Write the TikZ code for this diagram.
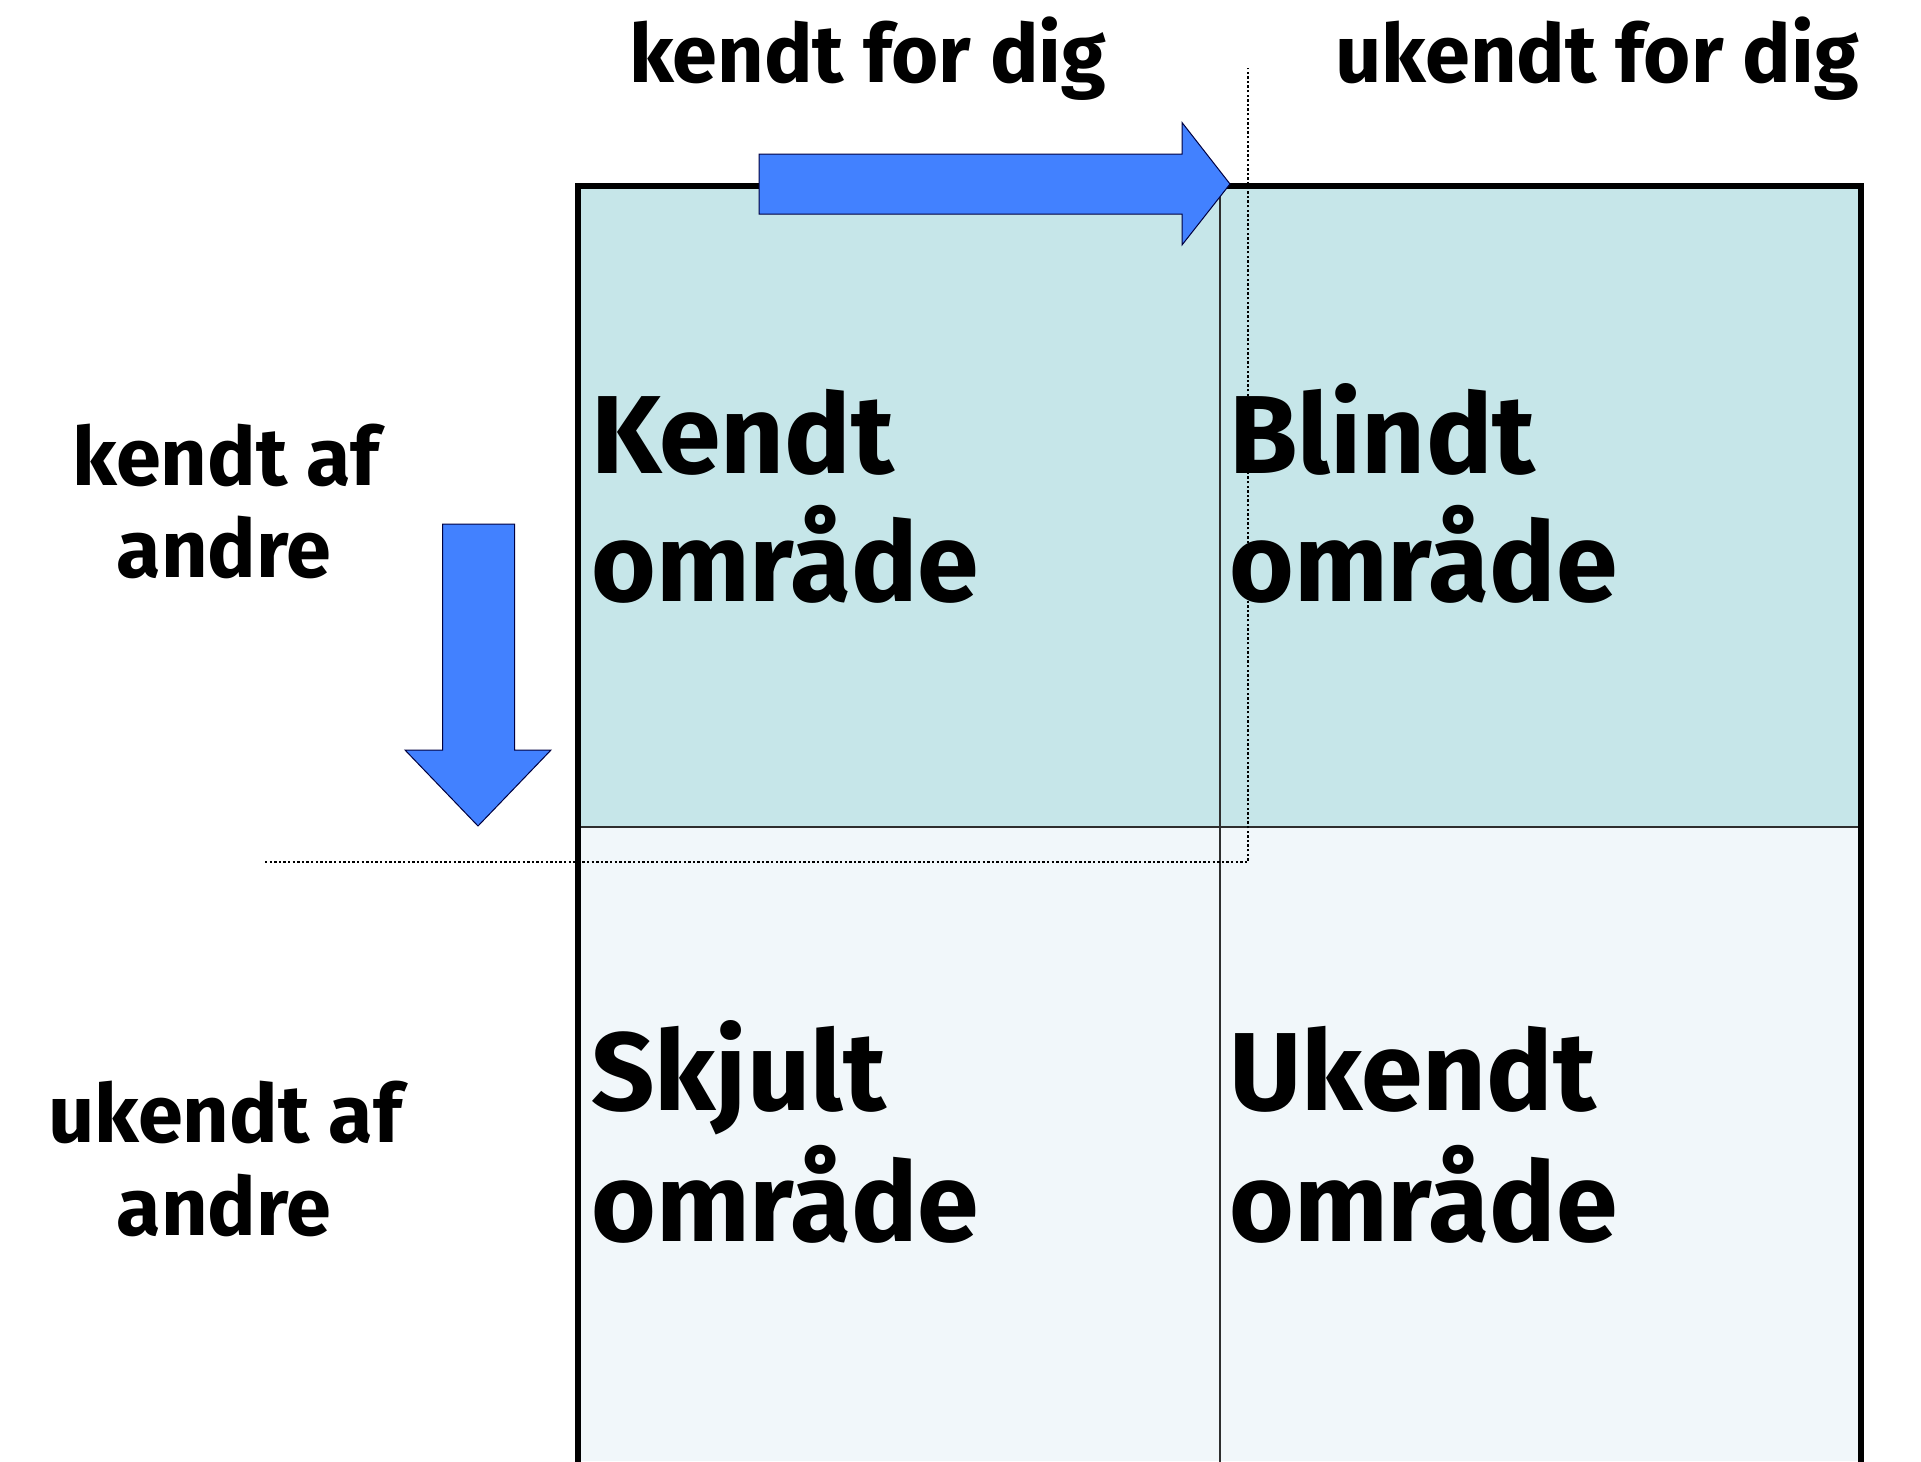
\documentclass[tikz,border=0pt]{standalone}
\usepackage{fontspec}
\setmainfont{Fira Sans}
\definecolor{topfill}{HTML}{C6E6E9}
\definecolor{botfill}{HTML}{F1F7FA}
\definecolor{arrowblue}{HTML}{4281FF}
\begin{document}
\begin{tikzpicture}[x=1pt,y=-1pt,
  lbl/.style={font=\fontsize{81}{94}\selectfont\bfseries, inner sep=0pt, anchor=base},
  toplbl/.style={font=\fontsize{81}{94}\selectfont\bfseries, inner sep=0pt, anchor=base west},
  cell/.style={font=\fontsize{111}{130}\selectfont\bfseries, inner sep=0pt, anchor=base west},
  frame/.style={line width=5.5pt, line join=miter},
  divider/.style={line width=2.4pt, draw=black!82},
  dotline/.style={line width=2.6pt, dash pattern=on 2.4pt off 2.2pt},
  blockarrow/.style={fill=arrowblue, draw=black!75!blue, line width=1pt, line join=miter}]
\useasboundingbox (0,0) rectangle (1921,1461);
% cells
\fill[topfill] (578,186) rectangle (1861,827);
\fill[botfill] (578,827) rectangle (1861,1461);
\draw[divider] (578,827) -- (1861,827);
\draw[divider] (1220,186) -- (1220,1470);
\draw[frame] (578,1470) -- (578,186) -- (1861,186) -- (1861,1470);
% dotted window lines
\coordinate (dotL) at (265,862);
\coordinate (dotC) at (1248,862);
\coordinate (dotT) at (1248,68);
\draw[dotline] (dotL) -- (dotC) -- (dotT);
% block arrows
\draw[blockarrow] (759,154) -- (1182,154) -- (1182,122.5) -- (1230,184) -- (1182,245) -- (1182,214) -- (759,214) -- cycle;
\draw[blockarrow] (442.5,524) -- (514.5,524) -- (514.5,750) -- (551,750) -- (478,826) -- (405,750) -- (442.5,750) -- cycle;
% top labels
\node[toplbl] (kfd) at (629,83) {kendt for dig};
\node[toplbl] (ufd) at (1335,83) {ukendt for dig};
% left labels
\node[lbl] (kaA) at (226,485) {kendt af};
\node[lbl] (kaB) at (224,577) {andre};
\node[lbl] (uaA) at (225,1142) {ukendt af};
\node[lbl] (uaB) at (224,1235) {andre};
% cell texts
\node[cell] (kendtA) at (591,473) {Kendt};
\node[cell] (kendtB) at (591,601) {område};
\node[cell] (blindA) at (1229,473) {Blindt};
\node[cell] (blindB) at (1229,601) {område};
\node[cell] (skjulA) at (591,1110) {Skjult};
\node[cell] (skjulB) at (591,1241) {område};
\node[cell] (ukendA) at (1229,1110) {Ukendt};
\node[cell] (ukendB) at (1229,1241) {område};
\end{tikzpicture}
\end{document}
